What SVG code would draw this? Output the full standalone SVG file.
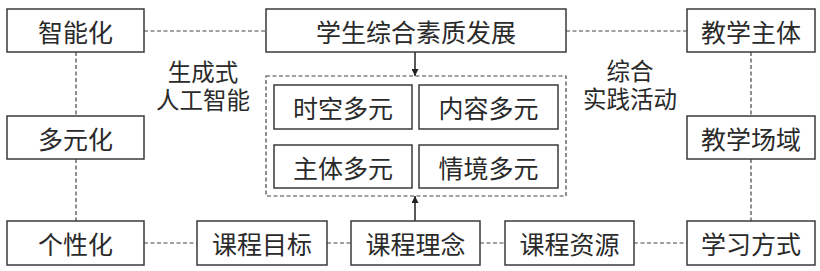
<svg xmlns="http://www.w3.org/2000/svg" width="820" height="271" viewBox="0 0 820 271">
<style>
.b{fill:#fff;stroke:#3a3a3a;stroke-width:1.5}
.t{font-family:"Noto Sans CJK SC","Noto Sans",sans-serif;font-size:25px;fill:#2a2a2a;text-anchor:middle;dominant-baseline:central}
.l{font-size:23.5px}
.d{fill:none;stroke:#444;stroke-width:1.2;stroke-dasharray:4 2.5}
.a{fill:none;stroke:#222;stroke-width:1.5}
</style>
<defs>
<marker id="ah" viewBox="0 0 10 10" refX="10" refY="5" markerWidth="7" markerHeight="7" markerUnits="userSpaceOnUse" orient="auto"><path d="M0,0L10,5L0,10z" fill="#222"/></marker>
</defs>
<rect width="820" height="271" fill="#fff"/>
<g id="connectors">
<line class="d" x1="144" y1="31" x2="266" y2="31"/>
<line class="d" x1="566" y1="31" x2="687" y2="31"/>
<line class="d" x1="76" y1="52" x2="76" y2="116"/>
<line class="d" x1="76" y1="159" x2="76" y2="221"/>
<line class="d" x1="751" y1="52" x2="751" y2="116"/>
<line class="d" x1="751" y1="159" x2="751" y2="221"/>
<line class="d" x1="144" y1="243" x2="197" y2="243"/>
<line class="d" x1="327" y1="243" x2="351" y2="243"/>
<line class="d" x1="480" y1="243" x2="505" y2="243"/>
<line class="d" x1="634" y1="243" x2="687" y2="243"/>
<line class="a" x1="415" y1="52" x2="415" y2="76" marker-end="url(#ah)"/>
<line class="a" x1="415" y1="221" x2="415" y2="196" marker-end="url(#ah)"/>
</g>
<g id="container"><rect class="d" x="266" y="76" width="300" height="120"/></g>
<g id="n-zhinenghua"><rect class="b" x="7" y="9" width="137" height="43"/><text class="t" x="75.5" y="31">智能化</text></g>
<g id="n-duoyuanhua"><rect class="b" x="7" y="116" width="137" height="43"/><text class="t" x="75.5" y="138">多元化</text></g>
<g id="n-gexinghua"><rect class="b" x="7" y="221" width="137" height="44"/><text class="t" x="75.5" y="243">个性化</text></g>
<g id="n-xuesheng"><rect class="b" x="266" y="9" width="300" height="43"/><text class="t" x="416" y="31">学生综合素质发展</text></g>
<g id="n-jiaoxuezhuti"><rect class="b" x="687" y="9" width="128" height="43"/><text class="t" x="751" y="31">教学主体</text></g>
<g id="n-jiaoxuechangyu"><rect class="b" x="687" y="116" width="128" height="43"/><text class="t" x="751" y="138">教学场域</text></g>
<g id="n-xuexifangshi"><rect class="b" x="687" y="221" width="128" height="44"/><text class="t" x="751" y="243">学习方式</text></g>
<g id="n-kechengmubiao"><rect class="b" x="197" y="221" width="130" height="44"/><text class="t" x="262" y="243">课程目标</text></g>
<g id="n-kechenglinian"><rect class="b" x="351" y="221" width="129" height="44"/><text class="t" x="415.5" y="243">课程理念</text></g>
<g id="n-kechengziyuan"><rect class="b" x="505" y="221" width="129" height="44"/><text class="t" x="569.5" y="243">课程资源</text></g>
<g id="n-shikong"><rect class="b" x="274" y="85" width="138" height="44"/><text class="t" x="343" y="107">时空多元</text></g>
<g id="n-neirong"><rect class="b" x="419" y="85" width="139" height="44"/><text class="t" x="488.5" y="107">内容多元</text></g>
<g id="n-zhuti"><rect class="b" x="274" y="145" width="138" height="43"/><text class="t" x="343" y="166.5">主体多元</text></g>
<g id="n-qingjing"><rect class="b" x="419" y="145" width="139" height="43"/><text class="t" x="488.5" y="166.5">情境多元</text></g>
<g id="labels">
<text class="t l" x="203" y="71">生成式<tspan x="203" dy="28">人工智能</tspan></text>
<text class="t l" x="630" y="70">综合<tspan x="630" dy="28">实践活动</tspan></text>
</g>
</svg>
